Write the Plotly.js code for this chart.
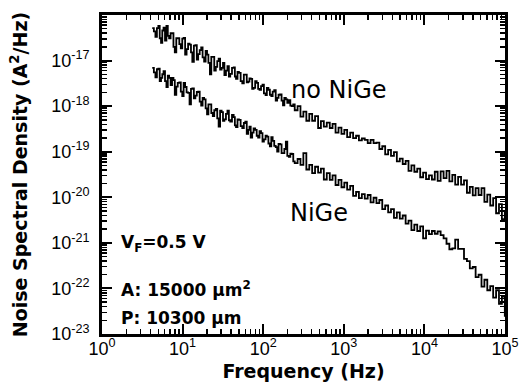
<!DOCTYPE html>
<html>
<head>
<meta charset="utf-8">
<script src="https://cdn.plot.ly/plotly-3.0.1.min.js"></script>
<style>html,body{margin:0;padding:0;background:#fff;}#chart{width:519px;height:385px;}</style>
</head>
<body>
<div id="chart"></div>
<script>
// Frequencies (Hz), shared by both spectra
const freqHz = [4.2,4.4,4.6,4.8,5.0,5.2,5.4,5.6,5.8,6.05,
6.3,6.55,6.8,7.1,7.4,7.7,8.0,8.35,8.7,9.1,
9.5,9.9,10.3,10.75,11.2,11.7,12.2,12.7,13.2,13.8,
14.4,15.0,15.6,16.3,17.0,17.7,18.5,19.3,20.1,20.9,
21.8,22.7,23.7,24.7,25.8,26.9,28.0,29.2,30.5,31.7,
33,34.5,36,37.5,39,41,43,44.5,46,48,
50,52.5,55,57.5,60,62.5,65,67.5,70,73,
76,79.5,83,86.5,90,94,98,102,107,111,
116,121,126,131,137,143,149,155,162,169,
176,183,191,199,208,217,226,236,246,
267,290,315,343,373,405,440,480,520,565,
615,670,725,790,860,935,1015,1100,1200,1305,1420,1540,1675,1820,1980,2150,2340,2540,2760,3000,
3260,3550,3850,4190,4550,4950,5380,5850,6350,6900,7500,8150,8870,9640,10480,11400,12400,13450,14600,15900,
17300,18800,20400,22200,24100,26200,28500,31000,33700,36600,39800,43200,47000,51100,55500,60300,65600,71300,77500,84200,
91500,99500];

// log10 of noise spectral density (A^2/Hz)
const log10PsdNoNiGe = [-16.29,-16.36,-16.48,-16.29,-16.24,-16.51,-16.61,-16.34,-16.28,-16.56,
-16.24,-16.46,-16.51,-16.40,-16.40,-16.70,-16.82,-16.51,-16.51,-16.64,
-16.73,-16.52,-16.50,-16.87,-16.75,-16.63,-16.65,-16.82,-17.03,-16.67,
-16.66,-16.98,-16.86,-16.77,-16.71,-16.93,-17.02,-16.79,-16.87,-17.05,
-17.30,-16.92,-16.92,-17.22,-17.14,-17.01,-16.96,-17.20,-17.16,-17.05,
-17.32,-17.22,-17.12,-17.35,-17.29,-17.16,-17.15,-17.35,-17.40,-17.25,
-17.27,-17.45,-17.50,-17.31,-17.31,-17.48,-17.46,-17.39,-17.40,-17.62,
-17.60,-17.45,-17.49,-17.62,-17.64,-17.56,-17.53,-17.72,-17.76,-17.60,
-17.64,-17.75,-17.78,-17.68,-17.65,-17.88,-17.82,-17.75,-17.74,-17.88,
-17.98,-17.82,-17.85,-17.93,-17.87,-17.99,-18.00,-17.96,-18.09,
-18.00,-18.23,-18.12,-18.32,-18.17,-18.32,-18.22,-18.48,-18.33,-18.45,
-18.36,-18.48,-18.39,-18.58,-18.47,-18.61,-18.52,-18.68,-18.58,-18.70,
-18.65,-18.75,-18.71,-18.74,-18.81,-18.74,-18.81,-18.80,-18.94,-18.88,
-19.06,-18.96,-19.09,-19.01,-19.21,-19.15,-19.27,-19.20,-19.42,-19.30,
-19.44,-19.37,-19.56,-19.46,-19.60,-19.52,-19.61,-19.44,-19.64,-19.43,
-19.58,-19.42,-19.65,-19.51,-19.72,-19.55,-19.72,-19.63,-19.90,-19.77,
-19.96,-19.80,-19.95,-19.80,-20.10,-19.94,-20.18,-20.02,-20.35,-20.15,
-20.48,-20.29];

const log10PsdNiGe = [-17.16,-17.26,-17.37,-17.19,-17.18,-17.45,-17.38,-17.30,-17.23,-17.45,
-17.58,-17.33,-17.38,-17.54,-17.38,-17.43,-17.75,-17.57,-17.49,-17.48,
-17.68,-17.78,-17.49,-17.58,-17.70,-17.71,-17.96,-17.62,-17.61,-17.83,
-17.77,-17.69,-17.68,-17.90,-17.99,-17.82,-17.85,-18.05,-18.18,-17.96,
-17.96,-18.15,-18.22,-18.09,-18.06,-18.27,-18.45,-18.10,-18.13,-18.32,
-18.29,-18.17,-18.10,-18.31,-18.34,-18.19,-18.24,-18.42,-18.46,-18.29,
-18.30,-18.44,-18.48,-18.37,-18.34,-18.61,-18.52,-18.45,-18.69,-18.58,
-18.49,-18.52,-18.65,-18.69,-18.55,-18.59,-18.78,-18.73,-18.65,-18.67,
-18.82,-18.88,-18.68,-18.76,-18.87,-18.90,-19.00,-18.83,-18.84,-19.03,
-19.03,-18.94,-18.78,-19.09,-19.11,-19.04,-19.05,-19.21,-19.25,
-19.16,-19.29,-19.03,-19.39,-19.29,-19.47,-19.33,-19.46,-19.37,-19.61,
-19.47,-19.62,-19.52,-19.73,-19.62,-19.78,-19.68,-19.83,-19.75,-19.97,
-19.88,-20.02,-19.93,-20.03,-19.95,-20.11,-20.01,-20.13,-20.06,-20.26,
-20.18,-20.33,-20.26,-20.45,-20.33,-20.47,-20.40,-20.58,-20.51,-20.72,
-20.60,-20.74,-20.64,-20.90,-20.73,-20.81,-20.74,-20.80,-20.75,-20.83,
-20.90,-21.02,-21.14,-21.12,-20.93,-21.13,-21.13,-21.35,-21.40,-21.56,
-21.53,-21.75,-21.70,-21.96,-21.81,-22.04,-21.95,-22.20,-22.04,-22.34,
-22.18,-22.62];

// Tick labels
const xTickVals = [1,10,100,1000,10000,100000];
const xTickText = ['10<sup>0</sup>','10<sup>1</sup>','10<sup>2</sup>','10<sup>3</sup>','10<sup>4</sup>','10<sup>5</sup>'];
const yTickVals = [1e-23,1e-22,1e-21,1e-20,1e-19,1e-18,1e-17];
const yTickText = ['10<sup>-23</sup>','10<sup>-22</sup>','10<sup>-21</sup>','10<sup>-20</sup>','10<sup>-19</sup>','10<sup>-18</sup>','10<sup>-17</sup>'];

function minorVals(lo, hi) {
  const out = [];
  for (let e = lo; e < hi; e++) for (let m = 2; m <= 9; m++) out.push(m * Math.pow(10, e));
  return out;
}

const toPsd = a => a.map(v => Math.pow(10, v));

const lineStyle = {color: '#000', width: 1.8, shape: 'hv'};
const data = [
  {x: freqHz, y: toPsd(log10PsdNoNiGe), type: 'scatter', mode: 'lines', line: lineStyle, name: 'no NiGe'},
  {x: freqHz, y: toPsd(log10PsdNiGe), type: 'scatter', mode: 'lines', line: lineStyle, name: 'NiGe'}
];

const tickFont = {family: 'Liberation Sans, Arial, sans-serif', size: 18, color: '#000'};
const titleFont = {family: 'DejaVu Sans, sans-serif', size: 19, color: '#000', weight: 'bold'};
const annFont = {family: 'DejaVu Sans, sans-serif', size: 17, color: '#000', weight: 'bold'};
const bigFont = {family: 'DejaVu Sans, sans-serif', size: 24, color: '#000'};

const axisCommon = {
  showgrid: false, zeroline: false, showline: true, linecolor: '#000', linewidth: 3,
  mirror: 'allticks', ticks: 'inside', ticklen: 10, tickwidth: 2, tickcolor: '#000',
  tickfont: tickFont, tickmode: 'array'
};

const layout = {
  width: 519, height: 385,
  margin: {l: 102, r: 14, t: 15, b: 51},
  paper_bgcolor: '#fff', plot_bgcolor: '#fff',
  showlegend: false,
  xaxis: Object.assign({}, axisCommon, {
    type: 'log', range: [0, 5], tickvals: xTickVals, ticktext: xTickText, ticklabelstandoff: -4,
    minor: {tickmode: 'array', tickvals: minorVals(0, 5), ticks: 'inside', ticklen: 5, tickwidth: 1.5, tickcolor: '#000'},
    title: {text: 'Frequency (Hz)', font: titleFont, standoff: 8}
  }),
  yaxis: Object.assign({}, axisCommon, {
    type: 'log', range: [-23, -16], tickvals: yTickVals, ticktext: yTickText, ticklabelstandoff: 6,
    minor: {tickmode: 'array', tickvals: minorVals(-23, -16), ticks: 'inside', ticklen: 5, tickwidth: 1.5, tickcolor: '#000'},
    title: {text: 'Noise Spectral Density (A<sup>2</sup>/Hz)', font: titleFont, standoff: 19}
  }),
  annotations: [
    {xref: 'paper', yref: 'paper', x: 0.588, y: 0.765, xanchor: 'center', yanchor: 'middle', text: 'no NiGe', showarrow: false, font: bigFont},
    {xref: 'paper', yref: 'paper', x: 0.538, y: 0.379, xanchor: 'center', yanchor: 'middle', text: 'NiGe', showarrow: false, font: bigFont},
    {xref: 'paper', yref: 'paper', x: 0.042, y: 0.285, xanchor: 'left', yanchor: 'middle', text: 'V<sub>F</sub>=0.5 V', showarrow: false, font: annFont},
    {xref: 'paper', yref: 'paper', x: 0.042, y: 0.141, xanchor: 'left', yanchor: 'middle', text: 'A: 15000 \u03bcm<sup>2</sup>', showarrow: false, font: annFont},
    {xref: 'paper', yref: 'paper', x: 0.042, y: 0.050, xanchor: 'left', yanchor: 'middle', text: 'P: 10300 \u03bcm', showarrow: false, font: annFont}
  ]
};

Plotly.newPlot('chart', data, layout, {displayModeBar: false, staticPlot: true});
</script>
</body>
</html>
